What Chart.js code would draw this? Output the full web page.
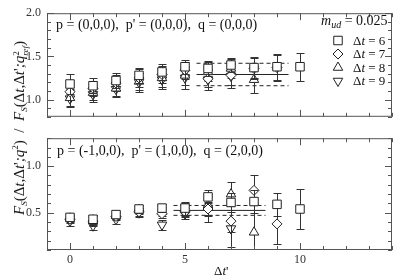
<!DOCTYPE html>
<html>
<head>
<meta charset="utf-8">
<script src="https://cdn.jsdelivr.net/npm/chart.js@4.4.0/dist/chart.umd.min.js"></script>
<style>
  body { margin: 0; background: #fff; }
  #wrap { position: relative; width: 399px; height: 277px; font-family: 'Liberation Serif', serif; color: #111; }
  #wrap canvas { position: absolute; left: 0; }
  .note { position: absolute; font-size: 13px; line-height: 1; white-space: nowrap; }
  .note sub { font-size: 9px; vertical-align: -3px; line-height: 0; }
  .note sup { font-size: 9px; vertical-align: 6px; line-height: 0; }
  .big { font-size: 14px; }
  .big sub { font-size: 10px; }
  .ss { display: inline-block; font-size: 9px; line-height: 9px; vertical-align: -4px; }
  #yTitle { left: 21px; top: 128px; font-size: 15px; transform: translate(-50%, -50%) rotate(-90deg); }
</style>
</head>
<body>
<div id="wrap">
  <canvas id="topChart" width="399" height="130" style="top:0"></canvas>
  <canvas id="bottomChart" width="399" height="152" style="top:125px"></canvas>

  <div class="note big" style="left:56px;top:18px">p = (0,0,0),&nbsp; p' = (0,0,0),&nbsp; q = (0,0,0)</div>
  <div class="note big" style="left:57px;top:144px">p = (-1,0,0),&nbsp; p' = (1,0,0),&nbsp; q = (2,0,0)</div>

  <div class="note big" style="left:321px;top:14px"><i>m</i><sub><i>ud</i></sub> = 0.025</div>
  <div class="note" style="left:353px;top:34px">Δ<i>t</i> = 6</div>
  <div class="note" style="left:353px;top:47px">Δ<i>t</i> = 7</div>
  <div class="note" style="left:353px;top:61px">Δ<i>t</i> = 8</div>
  <div class="note" style="left:353px;top:74px">Δ<i>t</i> = 9</div>

  <div class="note" id="yTitle"><i>F<sub>S</sub></i>(Δ<i>t</i>,Δ<i>t</i>'<i>;q</i><sup>2</sup>)&nbsp; /&nbsp; <i>F<sub>S</sub></i>(Δ<i>t</i>,Δ<i>t</i>'<i>;q</i><span class="ss">2<br><i>ref</i></span>)</div>
  <div class="note" style="left:214px;top:264px">Δ<i>t</i>'</div>
</div>

<script>
const dtPrime = [0, 1, 2, 3, 4, 5, 6, 7, 8, 9, 10];
const seriesLabels = ['Δt = 6', 'Δt = 7', 'Δt = 8', 'Δt = 9'];

// upper panel: p = p' = q = 0
const topDt6 = [1.18, 1.16, 1.22, 1.28, 1.32, 1.38, 1.36, 1.40, 1.37, 1.38, 1.38];
const topDt6Err = [0.12, 0.09, 0.09, 0.09, 0.09, 0.08, 0.09, 0.08, 0.12, 0.15, 0.16];
const topDt7 = [1.09, 1.13, 1.19, 1.25, 1.29, 1.34, 1.24, 1.28, 1.36, 1.37];
const topDt7Err = [0.10, 0.09, 0.09, 0.10, 0.10, 0.10, 0.10, 0.11, 0.12, 0.15];
const topDt8 = [1.02, 1.08, 1.13, 1.21, 1.25, 1.28, 1.32, 1.36, 1.23];
const topDt8Err = [0.10, 0.09, 0.09, 0.10, 0.10, 0.11, 0.11, 0.11, 0.16];
const topDt9 = [1.01, 1.06, 1.12, 1.20, 1.23, 1.25, 1.23, 1.27];
const topDt9Err = [0.10, 0.09, 0.09, 0.11, 0.11, 0.13, 0.12, 0.14];
const topFitRange = [5.5, 9.5];
const topFit = 1.29;
const topFitErr = 0.13;

// lower panel: p = (-1,0,0), p' = (1,0,0), q = (2,0,0)
const botDt6 = [0.45, 0.43, 0.48, 0.54, 0.55, 0.55, 0.67, 0.61, 0.62, 0.59, 0.54];
const botDt6Err = [0.04, 0.05, 0.04, 0.04, 0.04, 0.07, 0.07, 0.10, 0.12, 0.12, 0.21];
const botDt7 = [0.43, 0.41, 0.46, 0.51, 0.49, 0.51, 0.54, 0.41, 0.74, 0.38];
const botDt7Err = [0.04, 0.05, 0.04, 0.04, 0.05, 0.06, 0.08, 0.12, 0.16, 0.22];
const botDt8 = [0.44, 0.42, 0.47, 0.53, 0.51, 0.53, 0.58, 0.70, 0.29];
const botDt8Err = [0.04, 0.05, 0.04, 0.04, 0.05, 0.07, 0.10, 0.13, 0.30];
const botDt9 = [0.41, 0.36, 0.43, 0.50, 0.37, 0.49, 0.55, 0.33];
const botDt9Err = [0.05, 0.05, 0.05, 0.05, 0.05, 0.06, 0.15, 0.20];
const botFitRange = [4.5, 8.5];
const botFit = 0.525;
const botFitErr = 0.053;

const xRange = [-1, 14];
const topYRange = [0.8, 2.0];
const botYRange = [0.1, 1.3];

const ink = '#222';
const frameColor = '#555';
const markers = [
  { pointStyle: 'rect', radius: 6, rotation: 0 },
  { pointStyle: 'rectRot', radius: 5, rotation: 0 },
  { pointStyle: 'triangle', radius: 5.5, rotation: 0 },
  { pointStyle: 'triangle', radius: 5.5, rotation: 180 },
];

function pointSet(i, values, errors) {
  const m = markers[i];
  return {
    label: seriesLabels[i],
    data: values.map((y, j) => ({ x: dtPrime[j], y })),
    errors,
    showLine: false,
    pointStyle: m.pointStyle,
    pointRadius: m.radius,
    pointRotation: m.rotation,
    pointBorderWidth: 1,
    pointBorderColor: ink,
    pointBackgroundColor: '#fff',
    order: i,
  };
}

function fitSet(range, y, dashed) {
  return {
    data: range.map((x) => ({ x, y })),
    showLine: true,
    borderColor: ink,
    borderWidth: 1,
    borderDash: dashed ? [4, 3] : [],
    pointRadius: 0,
    order: 10,
  };
}

// error bars, drawn right before each point set
const errorBars = {
  id: 'errorBars',
  beforeDatasetDraw(chart, args) {
    const ds = chart.data.datasets[args.index];
    if (!ds.errors) return;
    const { ctx, chartArea: a, scales: { x, y } } = chart;
    ctx.save();
    ctx.beginPath();
    ctx.rect(a.left, a.top, a.right - a.left, a.bottom - a.top);
    ctx.clip();
    ctx.strokeStyle = '#333';
    ctx.lineWidth = 1;
    ctx.beginPath();
    ds.data.forEach((p, j) => {
      const px = Math.round(x.getPixelForValue(p.x)) + 0.5;
      const hi = Math.round(y.getPixelForValue(p.y + ds.errors[j])) + 0.5;
      const lo = Math.round(y.getPixelForValue(p.y - ds.errors[j])) + 0.5;
      ctx.moveTo(px, hi); ctx.lineTo(px, lo);
      ctx.moveTo(px - 4, hi); ctx.lineTo(px + 4, hi);
      ctx.moveTo(px - 4, lo); ctx.lineTo(px + 4, lo);
    });
    ctx.stroke();
    ctx.restore();
  },
};

// box with inward ticks on all four sides
const frameTicks = {
  id: 'frameTicks',
  afterDraw(chart) {
    const { ctx, chartArea: a, scales: { x, y } } = chart;
    ctx.save();
    ctx.strokeStyle = frameColor;
    ctx.lineWidth = 1;
    ctx.strokeRect(a.left + 0.5, a.top + 0.5, a.right - a.left - 1, a.bottom - a.top - 1);
    ctx.beginPath();
    x.ticks.forEach((t) => {
      const px = Math.round(x.getPixelForValue(t.value)) + 0.5;
      const len = t.value % 5 === 0 ? 7 : 4;
      ctx.moveTo(px, a.bottom); ctx.lineTo(px, a.bottom - len);
      ctx.moveTo(px, a.top); ctx.lineTo(px, a.top + len);
    });
    y.ticks.forEach((t) => {
      const py = Math.round(y.getPixelForValue(t.value)) + 0.5;
      const len = Math.abs(t.value * 2 - Math.round(t.value * 2)) < 1e-6 ? 7 : 4;
      ctx.moveTo(a.left, py); ctx.lineTo(a.left + len, py);
      ctx.moveTo(a.right, py); ctx.lineTo(a.right - len, py);
    });
    ctx.stroke();
    ctx.restore();
  },
};

// legend symbols in the upper panel (labels are html)
const legendMarks = {
  id: 'legendMarks',
  afterDraw(chart) {
    const { ctx } = chart;
    ctx.save();
    ctx.strokeStyle = ink;
    ctx.fillStyle = '#fff';
    ctx.lineWidth = 1;
    markers.forEach((m, i) => {
      Chart.helpers.drawPoint(ctx, { pointStyle: m.pointStyle, radius: m.radius, rotation: m.rotation, borderWidth: 1 }, 338, 40.5 + i * 13.5);
    });
    ctx.restore();
  },
};

const tickFont = { family: 'Liberation Serif', size: 12 };

function buildChart(canvasId, sets, fit, yRange, showX, padding, extraPlugins) {
  const datasets = sets.map(([vals, errs], i) => pointSet(i, vals, errs));
  datasets.push(fitSet(fit.range, fit.value, false));
  datasets.push(fitSet(fit.range, fit.value + fit.err, true));
  datasets.push(fitSet(fit.range, fit.value - fit.err, true));

  return new Chart(document.getElementById(canvasId), {
    type: 'scatter',
    data: { datasets },
    options: {
      responsive: false,
      animation: false,
      devicePixelRatio: 1,
      events: [],
      layout: { padding },
      plugins: { legend: { display: false }, tooltip: { enabled: false } },
      scales: {
        x: {
          type: 'linear',
          min: xRange[0],
          max: xRange[1],
          grid: { display: false, drawTicks: false },
          border: { display: false },
          ticks: {
            display: showX,
            stepSize: 1,
            autoSkip: false,
            maxRotation: 0,
            padding: 3,
            color: '#333',
            font: tickFont,
            callback: (v) => (v % 5 === 0 ? String(v) : ''),
          },
          afterFit: (s) => { s.height = showX ? 27 : 0; },
        },
        y: {
          type: 'linear',
          min: yRange[0],
          max: yRange[1],
          grid: { display: false, drawTicks: false },
          border: { display: false },
          ticks: {
            stepSize: 0.1,
            autoSkip: false,
            padding: 6,
            color: '#333',
            font: tickFont,
            callback: (v) => (Math.abs(v * 2 - Math.round(v * 2)) < 1e-6 ? v.toFixed(1) : ''),
          },
          afterFit: (s) => { s.width = 47; },
        },
      },
    },
    plugins: [errorBars, frameTicks, ...extraPlugins],
  });
}

buildChart('topChart',
  [[topDt6, topDt6Err], [topDt7, topDt7Err], [topDt8, topDt8Err], [topDt9, topDt9Err]],
  { range: topFitRange, value: topFit, err: topFitErr },
  topYRange, false, { top: 5, right: 2, bottom: 6, left: 0 }, [legendMarks]);

buildChart('bottomChart',
  [[botDt6, botDt6Err], [botDt7, botDt7Err], [botDt8, botDt8Err], [botDt9, botDt9Err]],
  { range: botFitRange, value: botFit, err: botFitErr },
  botYRange, true, { top: 5, right: 2, bottom: 0, left: 0 }, []);
</script>
</body>
</html>
